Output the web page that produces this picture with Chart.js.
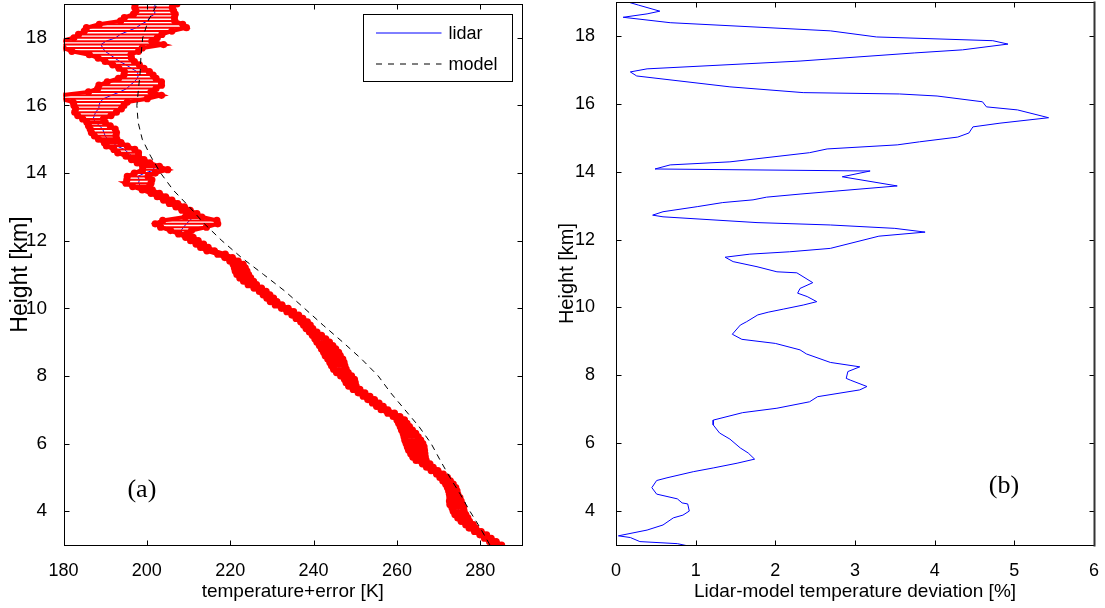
<!DOCTYPE html>
<html>
<head>
<meta charset="utf-8">
<script src="https://cdn.jsdelivr.net/npm/chart.js@4.4.1/dist/chart.umd.min.js"></script>
<style>
  body { margin: 0; background: #fff; }
  #wrap { position: relative; width: 1105px; height: 608px; }
  canvas { position: absolute; top: 0; }
  #tempChart { left: 0; }
  #devChart { left: 545px; }
</style>
</head>
<body>
<div id="wrap">
  <canvas id="tempChart" width="545" height="608"></canvas>
  <canvas id="devChart" width="560" height="608"></canvas>
</div>
<script>
// lidar profile, every 0.1 km
const heights = [
  3.0, 3.1, 3.2, 3.3, 3.4, 3.5, 3.6, 3.7, 3.8, 3.9,
  4.0, 4.1, 4.2, 4.3, 4.4, 4.5, 4.6, 4.7, 4.8, 4.9,
  5.0, 5.1, 5.2, 5.3, 5.4, 5.5, 5.6, 5.7, 5.8, 5.9,
  6.0, 6.1, 6.2, 6.3, 6.4, 6.5, 6.6, 6.7, 6.8, 6.9,
  7.0, 7.1, 7.2, 7.3, 7.4, 7.5, 7.6, 7.7, 7.8, 7.9,
  8.0, 8.1, 8.2, 8.3, 8.4, 8.5, 8.6, 8.7, 8.8, 8.9,
  9.0, 9.1, 9.2, 9.3, 9.4, 9.5, 9.6, 9.7, 9.8, 9.9,
  10.0, 10.1, 10.2, 10.3, 10.4, 10.5, 10.6, 10.7, 10.8, 10.9,
  11.0, 11.1, 11.2, 11.3, 11.4, 11.5, 11.6, 11.7, 11.8, 11.9,
  12.0, 12.1, 12.2, 12.3, 12.4, 12.5, 12.6, 12.7, 12.8, 12.9,
  13.0, 13.1, 13.2, 13.3, 13.4, 13.5, 13.6, 13.7, 13.8, 13.9,
  14.0, 14.1, 14.2, 14.3, 14.4, 14.5, 14.6, 14.7, 14.8, 14.9,
  15.0, 15.1, 15.2, 15.3, 15.4, 15.5, 15.6, 15.7, 15.8, 15.9,
  16.0, 16.1, 16.2, 16.3, 16.4, 16.5, 16.6, 16.7, 16.8, 16.9,
  17.0, 17.1, 17.2, 17.3, 17.4, 17.5, 17.6, 17.7, 17.8, 17.9,
  18.0, 18.1, 18.2, 18.3, 18.4, 18.5, 18.6, 18.7, 18.8, 18.9,
  19.0
];
const lidarTemps = [
  284.3, 283.0, 281.8, 280.7, 279.4, 278.1, 277.4, 276.4, 275.8, 275.2,
  274.8, 274.6, 274.2, 274.0, 273.9, 273.6, 273.4, 273.1, 272.6, 271.9,
  271.2, 270.3, 269.0, 267.9, 267.0, 265.8, 265.3, 265.0, 264.7, 264.5,
  264.2, 263.8, 263.4, 263.0, 262.4, 261.9, 261.4, 260.9, 259.9, 258.6,
  257.0, 255.9, 254.9, 253.8, 252.7, 251.5, 250.3, 249.3, 248.9, 248.6,
  247.8, 246.9, 246.3, 245.9, 245.6, 245.2, 244.6, 244.2, 243.6, 243.0,
  242.3, 241.6, 240.8, 239.9, 239.0, 238.4, 237.7, 236.6, 235.6, 234.4,
  233.1, 231.6, 230.4, 229.6, 228.7, 227.8, 226.6, 225.3, 224.4, 223.6,
  223.0, 222.6, 222.3, 221.9, 220.9, 219.6, 217.9, 215.3, 213.8, 212.7,
  211.4, 210.2, 208.6, 208.2, 208.8, 209.5, 210.3, 211.2, 210.8, 209.4,
  208.0, 206.4, 205.0, 203.5, 202.0, 200.1, 198.6, 198.0, 198.2, 197.8,
  199.5, 202.0, 201.0, 199.2, 197.8, 196.5, 195.5, 194.6, 192.8, 191.8,
  190.6, 190.0, 189.7, 189.4, 188.6, 187.8, 187.1, 187.4, 187.7, 188.4,
  188.5, 188.8, 189.6, 191.5, 193.5, 195.2, 196.0, 197.0, 197.7, 198.0,
  197.6, 196.3, 195.0, 193.5, 192.3, 191.2, 190.0, 189.4, 189.0, 190.2,
  192.5, 193.6, 195.5, 197.5, 198.6, 200.2, 200.6, 201.8, 201.9, 201.6,
  202.2
];
const lidarErrors = [
  0.8, 0.8, 0.8, 0.8, 0.8, 0.8, 0.9, 1.0, 1.2, 1.3,
  1.3, 1.4, 1.5, 1.4, 1.2, 1.0, 1.0, 1.0, 0.9, 0.9,
  0.9, 0.8, 0.8, 0.8, 0.9, 1.2, 1.5, 1.7, 1.9, 2.0,
  2.0, 1.9, 1.7, 1.5, 1.3, 1.1, 1.0, 0.9, 0.8, 0.8,
  0.8, 0.8, 0.8, 0.8, 0.8, 0.8, 0.8, 0.9, 1.1, 1.2,
  1.3, 1.4, 1.5, 1.6, 1.7, 1.8, 1.8, 1.8, 1.7, 1.6,
  1.5, 1.3, 1.1, 0.9, 0.8, 0.8, 0.8, 0.8, 0.8, 0.8,
  0.8, 0.8, 0.8, 0.8, 0.8, 0.8, 0.9, 1.0, 1.2, 1.3,
  1.4, 1.4, 1.3, 1.2, 1.0, 0.9, 0.9, 0.9, 0.9, 0.9,
  0.9, 0.9, 1.0, 2.5, 5.5, 7.5, 6.5, 2.0, 1.2, 1.0,
  1.0, 1.0, 1.0, 1.0, 1.0, 1.2, 2.0, 3.0, 3.0, 2.5,
  2.5, 3.0, 2.0, 1.5, 1.5, 1.5, 2.5, 2.5, 2.5, 2.0,
  2.2, 2.6, 3.0, 3.0, 2.6, 2.2, 2.5, 4.0, 5.0, 5.5,
  6.0, 6.5, 10.5, 12.0, 7.5, 7.0, 7.5, 6.5, 4.5, 3.5,
  3.0, 3.0, 3.2, 3.5, 4.0, 5.0, 8.0, 9.5, 15.0, 11.0,
  10.0, 10.0, 10.5, 12.0, 10.0, 6.5, 6.0, 5.0, 4.5, 4.5,
  5.0
];

// model profile
const modelHeights = [
  3.0, 3.5, 4.0, 4.5, 5.0, 5.5, 6.0, 6.5, 7.0, 7.5, 8.0, 8.5, 9.0, 9.5, 10.0, 10.5,
  11.0, 11.5, 12.0, 12.5, 13.0, 13.5, 14.0, 14.5, 15.0, 15.5, 16.0, 16.5, 17.0, 17.5,
  18.0, 18.5, 19.0
];
const modelTemps = [
  282.3, 280.0, 277.5, 275.2, 272.7, 270.4, 268.2, 265.3, 261.9, 258.5, 255.5, 251.5, 247.0, 242.3, 237.8, 233.2,
  228.0, 222.7, 218.0, 213.8, 210.2, 206.3, 203.3, 200.9, 198.9, 197.9, 197.6, 198.0, 198.4, 198.6,
  199.0, 200.3, 202.5
];

// lidar-model deviation, read top to bottom
const devHeights = [
  19.0, 18.91, 18.73, 18.65, 18.55, 18.39, 18.15, 17.97, 17.86, 17.76, 17.59, 17.50, 17.26, 17.03, 16.94, 16.82,
  16.50, 16.33, 16.29, 16.23, 16.06, 15.91, 15.82, 15.59, 15.43, 15.32, 15.14, 15.02, 14.88, 14.79, 14.67, 14.56,
  14.29, 14.20, 14.08, 14.02, 13.85, 13.58, 13.34, 13.25, 13.17, 13.09, 12.97, 12.82, 12.72, 12.67, 12.50, 12.43,
  12.33, 12.22, 12.10, 11.74, 11.64, 11.57, 11.48, 11.35, 11.20, 11.05, 11.02, 10.73, 10.56, 10.42, 10.32, 10.17,
  10.07, 9.95, 9.86, 9.78, 9.58, 9.48, 9.21, 9.06, 8.94, 8.75, 8.63, 8.38, 8.25, 8.11, 7.91, 7.86,
  7.67, 7.57, 7.37, 7.22, 7.03, 6.90, 6.68, 6.54, 6.30, 6.12, 5.86, 5.71, 5.53, 5.41, 5.27, 5.16,
  4.98, 4.90, 4.69, 4.50, 4.36, 4.24, 4.21, 4.00, 3.88, 3.80, 3.59, 3.44, 3.27, 3.22, 3.10, 3.04, 2.95
];
const deviations = [
  0.15, 0.28, 0.55, 0.39, 0.09, 0.68, 2.69, 3.27, 4.73, 4.92, 4.35, 3.75, 2.31, 0.39, 0.18, 0.26,
  1.43, 2.35, 3.56, 4.03, 4.60, 4.65, 5.04, 5.43, 4.82, 4.48, 4.43, 4.29, 3.81, 3.53, 2.65, 2.43,
  1.43, 0.68, 0.49, 3.19, 2.84, 3.53, 2.31, 1.89, 1.72, 1.34, 1.02, 0.59, 0.46, 0.59, 1.77, 2.69,
  3.50, 3.88, 3.30, 2.69, 2.18, 1.68, 1.37, 1.47, 1.77, 2.02, 2.27, 2.47, 2.31, 2.28, 2.40, 2.52,
  2.35, 2.10, 1.91, 1.78, 1.64, 1.56, 1.46, 1.58, 2.00, 2.31, 2.39, 2.69, 3.06, 2.91, 2.89, 2.94,
  3.15, 3.06, 2.53, 2.43, 2.02, 1.59, 1.22, 1.22, 1.30, 1.43, 1.56, 1.66, 1.74, 1.52, 1.22, 0.97,
  0.64, 0.51, 0.45, 0.51, 0.77, 0.83, 0.90, 0.92, 0.84, 0.72, 0.59, 0.39, 0.03, 0.18, 0.30, 0.77, 0.95
];

const heightTicks = [4, 6, 8, 10, 12, 14, 16, 18];
const tempTicks = [180, 200, 220, 240, 260, 280];
const devTicks = [0, 1, 2, 3, 4, 5, 6];

const sans = "'Liberation Sans', Arial, sans-serif";
const serif = "'Liberation Serif', 'Times New Roman', serif";

Chart.defaults.font.family = sans;
Chart.defaults.color = '#000';

function pairs(xs, ys) {
    return xs.map((x, i) => ({ x: x, y: ys[i] }));
}

const lowerPts = heights.map((h, i) => ({ x: lidarTemps[i] - lidarErrors[i], y: h }));
const upperPts = heights.map((h, i) => ({ x: lidarTemps[i] + lidarErrors[i], y: h }));
const barPts = [];
heights.forEach((h, i) => {
    barPts.push({ x: lidarTemps[i] - lidarErrors[i], y: h });
    barPts.push({ x: lidarTemps[i] + lidarErrors[i], y: h });
    barPts.push({ x: null, y: null });
});

// box round the plot with inward ticks on all four sides
const frame = {
    id: 'frame',
    afterDatasetsDraw(chart, args, opts) {
        const { ctx, chartArea: a, scales: { x, y } } = chart;
        const L = Math.round(a.left) + 0.5, R = Math.round(a.right) + 0.5;
        const T = Math.round(a.top) + 0.5, B = Math.round(a.bottom) + 0.5;
        ctx.save();
        ctx.strokeStyle = '#000';
        ctx.lineWidth = 1;
        ctx.beginPath();
        x.ticks.forEach(t => {
            const px = Math.round(x.getPixelForValue(t.value)) + 0.5;
            ctx.moveTo(px, B); ctx.lineTo(px, B - 5);
            ctx.moveTo(px, T); ctx.lineTo(px, T + 5);
        });
        y.ticks.forEach(t => {
            const py = Math.round(y.getPixelForValue(t.value)) + 0.5;
            ctx.moveTo(L, py); ctx.lineTo(L + 5, py);
            ctx.moveTo(R, py); ctx.lineTo(R - 5, py);
        });
        ctx.stroke();
        ctx.strokeRect(L, T, R - L, B - T);
        if (opts.edgeWidth) {
            ctx.strokeStyle = '#333';
            ctx.lineWidth = opts.edgeWidth;
            ctx.beginPath();
            ctx.moveTo(R, T - 1); ctx.lineTo(R, B + 1);
            ctx.stroke();
        }
        ctx.restore();
    }
};

const panelLabel = {
    id: 'panelLabel',
    afterDatasetsDraw(chart, args, opts) {
        const { ctx, scales: { x, y } } = chart;
        ctx.save();
        ctx.font = '26px ' + serif;
        ctx.fillStyle = '#000';
        ctx.textAlign = 'center';
        ctx.textBaseline = 'alphabetic';
        ctx.fillText(opts.text, x.getPixelForValue(opts.x), y.getPixelForValue(opts.y));
        ctx.restore();
    }
};

const legendBox = {
    id: 'legendBox',
    afterDraw(chart) {
        const { ctx, chartArea: a } = chart;
        const x0 = Math.round(a.right) - 158.5, y0 = Math.round(a.top) + 10.5;
        ctx.save();
        ctx.fillStyle = '#fff';
        ctx.fillRect(x0, y0, 149, 67);
        ctx.strokeStyle = '#000';
        ctx.lineWidth = 1;
        ctx.strokeRect(x0, y0, 149, 67);

        ctx.strokeStyle = '#0000ff';
        ctx.beginPath();
        ctx.moveTo(x0 + 12.5, y0 + 18.5); ctx.lineTo(x0 + 78, y0 + 18.5);
        ctx.stroke();

        ctx.strokeStyle = '#000';
        ctx.setLineDash([6, 6]);
        ctx.beginPath();
        ctx.moveTo(x0 + 12.5, y0 + 49.5); ctx.lineTo(x0 + 78, y0 + 49.5);
        ctx.stroke();
        ctx.setLineDash([]);

        ctx.fillStyle = '#000';
        ctx.font = '18px ' + sans;
        ctx.textBaseline = 'alphabetic';
        ctx.fillText('lidar', x0 + 85, y0 + 24.5);
        ctx.fillText('model', x0 + 85, y0 + 55.5);
        ctx.restore();
    }
};

function fixedTicks(values) {
    return scale => { scale.ticks = values.map(v => ({ value: v })); };
}

// fixed axis sizes, no extra room for overhanging labels
function fitX(h) {
    return s => { s.height = h; s.paddingLeft = 0; s.paddingRight = 0; };
}
function fitY(w) {
    return s => { s.width = w; s.paddingTop = 0; s.paddingBottom = 0; };
}

// small error bars overlap into a solid band, large ones stay hatched
function barWidth(ctx) {
    const err = lidarErrors[Math.floor(ctx.p0DataIndex / 3)];
    return err < 2.3 ? 4 : 2;
}

new Chart(document.getElementById('tempChart'), {
    type: 'scatter',
    data: {
        datasets: [
            {
                label: 'model',
                data: pairs(modelTemps, modelHeights),
                showLine: true,
                borderColor: '#000',
                borderWidth: 1,
                borderDash: [6, 5],
                pointRadius: 0,
                clip: 0
            },
            {
                label: 'lower',
                data: lowerPts,
                showLine: true,
                borderColor: '#ff0000',
                borderWidth: 4,
                pointRadius: 3.6,
                pointBackgroundColor: '#ff0000',
                pointBorderWidth: 0,
                clip: 0
            },
            {
                label: 'upper',
                data: upperPts,
                showLine: true,
                borderColor: '#ff0000',
                borderWidth: 4,
                pointRadius: 3.6,
                pointBackgroundColor: '#ff0000',
                pointBorderWidth: 0,
                clip: 0
            },
            {
                label: 'error',
                data: barPts,
                showLine: true,
                spanGaps: false,
                borderColor: '#ff0000',
                borderWidth: 2,
                segment: { borderWidth: barWidth },
                pointRadius: 0,
                clip: 0
            },
            {
                label: 'lidar',
                data: pairs(lidarTemps, heights),
                showLine: true,
                borderColor: '#0000ff',
                borderWidth: 1,
                pointRadius: 0,
                clip: 0
            }
        ]
    },
    options: {
        responsive: false,
        animation: false,
        events: [],
        layout: { padding: { left: 0, right: 23, top: 3, bottom: 0 } },
        plugins: {
            legend: { display: false },
            tooltip: { enabled: false },
            frame: {},
            panelLabel: { text: '(a)', x: 198.8, y: 4.42 }
        },
        scales: {
            x: {
                type: 'linear',
                min: 180,
                max: 290,
                afterBuildTicks: fixedTicks(tempTicks),
                afterFit: fitX(63),
                grid: { display: false },
                border: { display: false },
                ticks: { padding: 7, font: { size: 18 }, autoSkip: false, maxRotation: 0 },
                title: { display: true, text: 'temperature+error [K]', font: { size: 19 }, padding: { top: 0, bottom: 5 } }
            },
            y: {
                type: 'linear',
                min: 3,
                max: 19,
                afterBuildTicks: fixedTicks(heightTicks),
                afterFit: fitY(63.5),
                grid: { display: false },
                border: { display: false },
                ticks: { padding: 8.5, font: { size: 19 }, autoSkip: false },
                title: { display: true, text: 'Height [km]', font: { size: 23 }, padding: { top: 7, bottom: 0 } }
            }
        }
    },
    plugins: [frame, panelLabel, legendBox]
});

new Chart(document.getElementById('devChart'), {
    type: 'scatter',
    data: {
        datasets: [{
            label: 'deviation',
            data: pairs(deviations, devHeights),
            showLine: true,
            borderColor: '#0000ff',
            borderWidth: 1,
            pointRadius: 0,
            clip: 0
        }]
    },
    options: {
        responsive: false,
        animation: false,
        events: [],
        layout: { padding: { left: 0, right: 11, top: 2, bottom: 0 } },
        plugins: {
            legend: { display: false },
            tooltip: { enabled: false },
            frame: { edgeWidth: 2 },
            panelLabel: { text: '(b)', x: 4.87, y: 4.53 }
        },
        scales: {
            x: {
                type: 'linear',
                min: 0,
                max: 6,
                afterBuildTicks: fixedTicks(devTicks),
                afterFit: fitX(63),
                grid: { display: false },
                border: { display: false },
                ticks: { padding: 7, font: { size: 18 }, autoSkip: false, maxRotation: 0 },
                title: { display: true, text: 'Lidar-model temperature deviation [%]', font: { size: 19 }, padding: { top: 0, bottom: 5 } }
            },
            y: {
                type: 'linear',
                min: 3,
                max: 19,
                afterBuildTicks: fixedTicks(heightTicks),
                afterFit: fitY(71),
                grid: { display: false },
                border: { display: false },
                ticks: { padding: 13, font: { size: 18 }, autoSkip: false },
                title: { display: true, text: 'Height [km]', font: { size: 20 }, padding: { top: 10.5, bottom: 0 } }
            }
        }
    },
    plugins: [frame, panelLabel]
});
</script>
</body>
</html>
